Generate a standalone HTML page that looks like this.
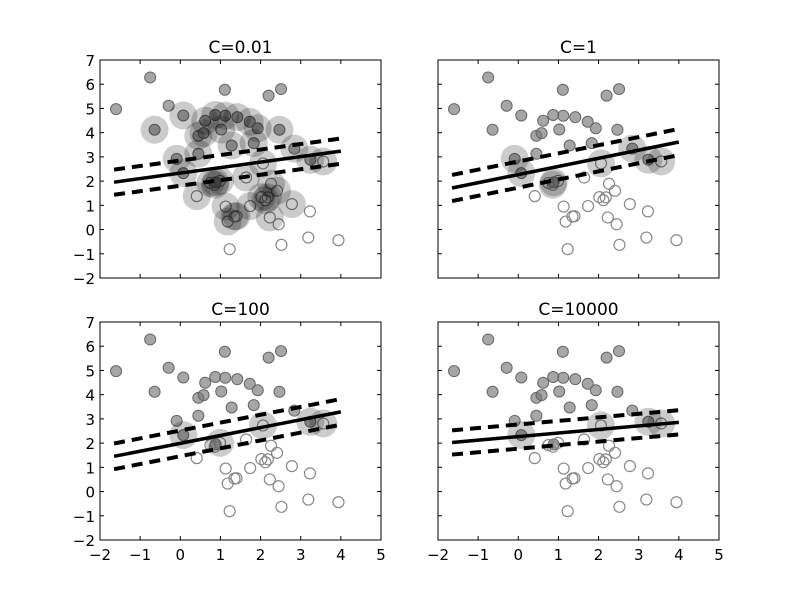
<!DOCTYPE html>
<html><head><meta charset="utf-8"><style>
body{margin:0;background:#fff;}
svg{display:block;font-family:"DejaVu Sans","Liberation Sans",sans-serif;}
</style></head><body>
<svg id="fig" width="800" height="600" viewBox="0 0 800 600"></svg>
<script>
const filledX=[-1.6,-0.75,-0.64,-0.29,0.075,-0.09,0.075,0.45,0.45,0.58,0.62,0.87,1.11,1.12,1.02,1.42,1.28,1.73,1.93,1.83,2.2,2.51,2.47,2.84,3.24,0.88];
const filledY=[4.97,6.28,4.12,5.11,4.71,2.92,2.33,3.87,3.13,3.98,4.49,4.73,5.77,4.70,4.13,4.64,3.47,4.45,4.18,3.57,5.53,5.80,4.12,3.34,2.88,1.95];
const openX=[0.41,0.75,0.86,0.99,1.13,1.18,1.35,1.4,1.23,1.64,1.74,2.02,2.12,2.18,2.06,2.26,2.41,2.23,2.45,2.52,2.78,3.23,3.19,3.56,3.94];
const openY=[1.38,1.92,1.85,2.01,0.95,0.33,0.54,0.55,-0.81,2.15,0.97,1.34,1.21,1.33,2.73,1.89,1.60,0.5,0.22,-0.63,1.05,0.75,-0.33,2.81,-0.44];
const panelTitles=["C=0.01","C=1","C=100","C=10000"];
const slopes=[0.227,0.336,0.325,0.147];
const intercepts=[2.33,2.27,1.99,2.27];
const margins=[0.52,0.54,0.53,0.5];
const svFilled=[[2,4,5,6,7,8,9,10,11,13,14,15,16,17,18,19,22,23,24,25],[5,6,25,23,24],[6,24],[6,24]];
const svOpen=[[0,1,2,3,4,5,6,7,9,10,11,12,13,14,15,16,17,20,23],[2,14,23],[3,14,23],[14,23]];
const xTicks=[-2,-1,0,1,2,3,4,5];
const yTicks=[-2,-1,0,1,2,3,4,5,6,7];
const lineX=[-1.65,4.0];

const NS="http://www.w3.org/2000/svg";
const svg=document.getElementById('fig');
function mk(tag,attrs,parent){const e=document.createElementNS(NS,tag);for(const k in attrs)e.setAttribute(k,attrs[k]);(parent||svg).appendChild(e);return e;}
const boxes=[{l:100,r:381,t:60,b:278},{l:438,r:719,t:60,b:278},{l:100,r:381,t:322,b:540},{l:438,r:719,t:322,b:540}];
boxes.forEach((B,p)=>{
  const sx=v=>B.l+(v+2)/7*(B.r-B.l);
  const sy=v=>B.b-(v+2)/9*(B.b-B.t);
  const g=mk('g',{});
  
  
  mk('rect',{x:B.l,y:B.t,width:B.r-B.l,height:B.b-B.t,fill:'#fff'},g);
  const cid='clip'+p;
  const cp=mk('clipPath',{id:cid},g);mk('rect',{x:B.l,y:B.t,width:B.r-B.l,height:B.b-B.t},cp);
  const pg=mk('g',{'clip-path':'url(#'+cid+')'},g);
  filledX.forEach((x,i)=>{const c=mk('circle',{cx:sx(x),cy:sy(filledY[i]),r:5.5,fill:'#777','fill-opacity':0.65,stroke:'#666','stroke-width':1},pg);
    
    });
  openX.forEach((x,i)=>{const c=mk('circle',{cx:sx(x),cy:sy(openY[i]),r:5.5,fill:'none',stroke:'#888','stroke-width':1.2},pg);
    
    });
  const m=slopes[p],b0=intercepts[p],mg=margins[p];
  [[0,'none',3.5,'decision-boundary'],[mg,'11,7',4,'margin-upper'],[-mg,'11,7',4,'margin-lower']].forEach(([o,d,w,n])=>{
    const l=mk('line',{x1:sx(lineX[0]),y1:sy(m*lineX[0]+b0+o),x2:sx(lineX[1]),y2:sy(m*lineX[1]+b0+o),stroke:'#000','stroke-width':w,'stroke-dasharray':d},pg);
    
    });
  svFilled[p].forEach(i=>{const c=mk('circle',{cx:sx(filledX[i]),cy:sy(filledY[i]),r:14,fill:'#000','fill-opacity':0.2},pg);
    
    });
  svOpen[p].forEach(i=>{const c=mk('circle',{cx:sx(openX[i]),cy:sy(openY[i]),r:14,fill:'#000','fill-opacity':0.2},pg);
    
    });
  mk('rect',{x:B.l,y:B.t,width:B.r-B.l,height:B.b-B.t,fill:'none',stroke:'#000','stroke-width':1},g);
  xTicks.forEach(v=>{const X=sx(v);
    mk('line',{x1:X,y1:B.b,x2:X,y2:B.b-4,stroke:'#000'},g);mk('line',{x1:X,y1:B.t,x2:X,y2:B.t+4,stroke:'#000'},g);
    if(p>=2){const t=mk('text',{x:X,y:B.b+20,'text-anchor':'middle','font-size':15},g);t.textContent=(v<0?'\u2212'+(-v):v);
      
      }});
  yTicks.forEach(v=>{const Y=sy(v);
    mk('line',{x1:B.l,y1:Y,x2:B.l+4,y2:Y,stroke:'#000'},g);mk('line',{x1:B.r,y1:Y,x2:B.r-4,y2:Y,stroke:'#000'},g);
    if(p%2==0){const t=mk('text',{x:B.l-5,y:Y+6,'text-anchor':'end','font-size':15},g);t.textContent=(v<0?'\u2212'+(-v):v);
      
      }});
  const tt=mk('text',{x:(B.l+B.r)/2,y:B.t-7,'text-anchor':'middle','font-size':17},g);tt.textContent=panelTitles[p];
  
  
});
</script>
</body></html>
